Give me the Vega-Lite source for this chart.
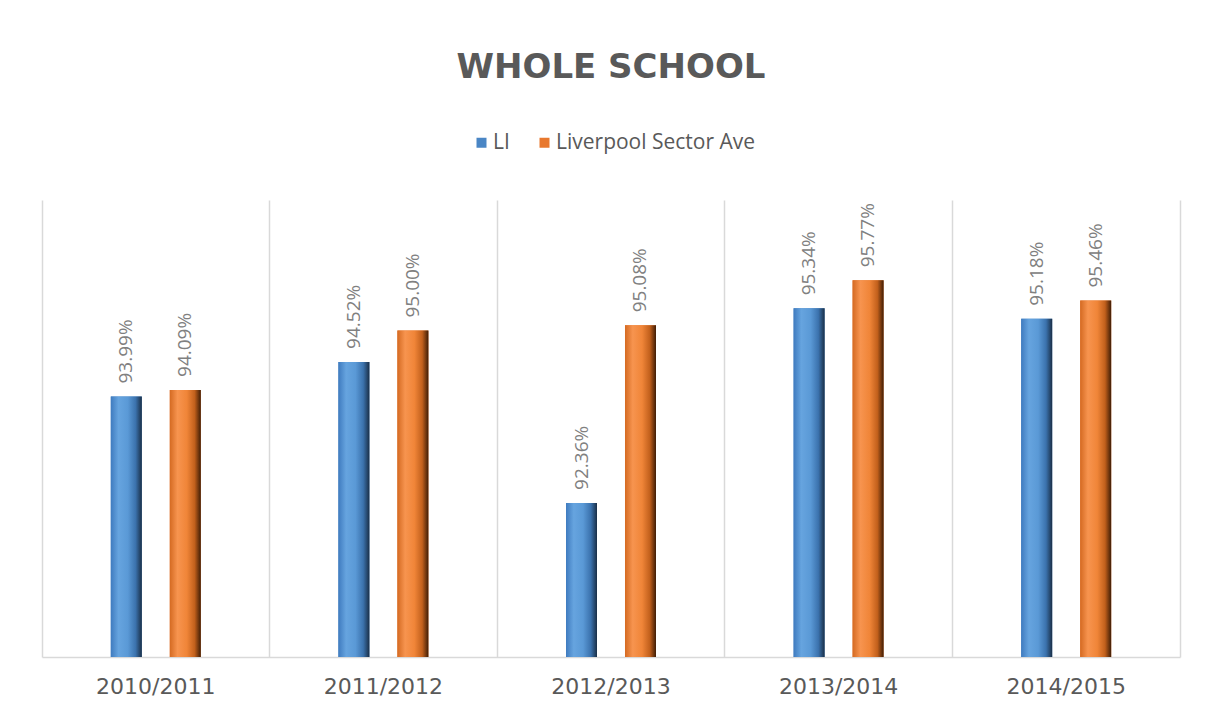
{
  "$schema": "https://vega.github.io/schema/vega-lite/v6.json",
  "width": 1138,
  "height": 457,
  "autosize": {"type": "none"},
  "padding": {"left": 42, "top": 200, "right": 29, "bottom": 48},
  "background": "white",
  "title": {
    "text": "WHOLE SCHOOL",
    "anchor": "middle",
    "frame": "group",
    "font": "DejaVu Sans",
    "fontSize": 34,
    "fontWeight": "bold",
    "color": "#595959",
    "offset": 47
  },
  "config": {
    "view": {"stroke": null},
    "legend": {"padding": 0}
  },
  "data": {
    "values": [
      {"year": "2010/2011", "series": "LI", "value": 0.9399},
      {"year": "2010/2011", "series": "Liverpool Sector Ave", "value": 0.9409},
      {"year": "2011/2012", "series": "LI", "value": 0.9452},
      {"year": "2011/2012", "series": "Liverpool Sector Ave", "value": 0.9500},
      {"year": "2012/2013", "series": "LI", "value": 0.9236},
      {"year": "2012/2013", "series": "Liverpool Sector Ave", "value": 0.9508},
      {"year": "2013/2014", "series": "LI", "value": 0.9534},
      {"year": "2013/2014", "series": "Liverpool Sector Ave", "value": 0.9577},
      {"year": "2014/2015", "series": "LI", "value": 0.9518},
      {"year": "2014/2015", "series": "Liverpool Sector Ave", "value": 0.9546}
    ]
  },
  "encoding": {
    "x": {
      "field": "year",
      "type": "nominal",
      "scale": {"paddingInner": 0, "paddingOuter": 0},
      "axis": {
        "title": null,
        "labelAngle": 0,
        "labelFont": "DejaVu Sans",
        "labelFontSize": 22,
        "labelColor": "#595959",
        "labelPadding": 19,
        "ticks": false,
        "domain": true,
        "domainColor": "#d9d9d9",
        "domainWidth": 1.5,
        "grid": true,
        "gridColor": "#d9d9d9",
        "gridWidth": 1.5,
        "bandPosition": 0
      }
    },
    "xOffset": {
      "field": "series",
      "type": "nominal",
      "scale": {"paddingInner": 0, "paddingOuter": 0.929}
    },
    "y": {
      "field": "value",
      "type": "quantitative",
      "scale": {"domain": [0.90, 0.97], "zero": false, "nice": false},
      "axis": {
        "orient": "right",
        "title": null,
        "labels": false,
        "ticks": false,
        "grid": false,
        "domain": true,
        "domainColor": "#d9d9d9",
        "domainWidth": 1.5
      }
    },
    "y2": {"datum": 0.90}
  },
  "layer": [
    {
      "mark": {"type": "bar", "width": 31},
      "encoding": {
        "color": {
          "field": "series",
          "type": "nominal",
          "scale": {"domain": ["LI", "Liverpool Sector Ave"], "range": ["#4a86c5", "#e8782e"]},
          "legend": {
            "title": null,
            "orient": "none",
            "direction": "horizontal",
            "legendX": 429,
            "legendY": -68,
            "symbolType": "square",
            "symbolSize": 100,
            "symbolStrokeWidth": 0,
            "labelFont": "Open Sans",
            "labelFontSize": 21,
            "labelColor": "#595959",
            "labelOffset": 1,
            "labelLimit": 400,
            "columnPadding": 24
          }
        }
      }
    },
    {
      "transform": [{"filter": "datum.series === 'LI'"}],
      "mark": {
        "type": "bar",
        "width": 31,
        "color": {
          "gradient": "linear",
          "x1": 0, "x2": 1, "y1": 0, "y2": 0,
          "stops": [
            {"offset": 0, "color": "#3f7bbf"},
            {"offset": 0.25, "color": "#66a4df"},
            {"offset": 0.55, "color": "#5a99d6"},
            {"offset": 0.8, "color": "#3b72ad"},
            {"offset": 1, "color": "#1a2f47"}
          ]
        }
      }
    },
    {
      "transform": [{"filter": "datum.series !== 'LI'"}],
      "mark": {
        "type": "bar",
        "width": 31,
        "color": {
          "gradient": "linear",
          "x1": 0, "x2": 1, "y1": 0, "y2": 0,
          "stops": [
            {"offset": 0, "color": "#d46a22"},
            {"offset": 0.25, "color": "#f7944f"},
            {"offset": 0.55, "color": "#f08538"},
            {"offset": 0.8, "color": "#c2601c"},
            {"offset": 1, "color": "#3f1d06"}
          ]
        }
      }
    },
    {
      "mark": {
        "type": "text",
        "angle": 270,
        "align": "left",
        "baseline": "middle",
        "dx": 13,
        "font": "Open Sans",
        "fontSize": 19,
        "color": "#808080"
      },
      "encoding": {
        "y2": null,
        "text": {"field": "value", "type": "quantitative", "format": ".2%"}
      }
    }
  ]
}
